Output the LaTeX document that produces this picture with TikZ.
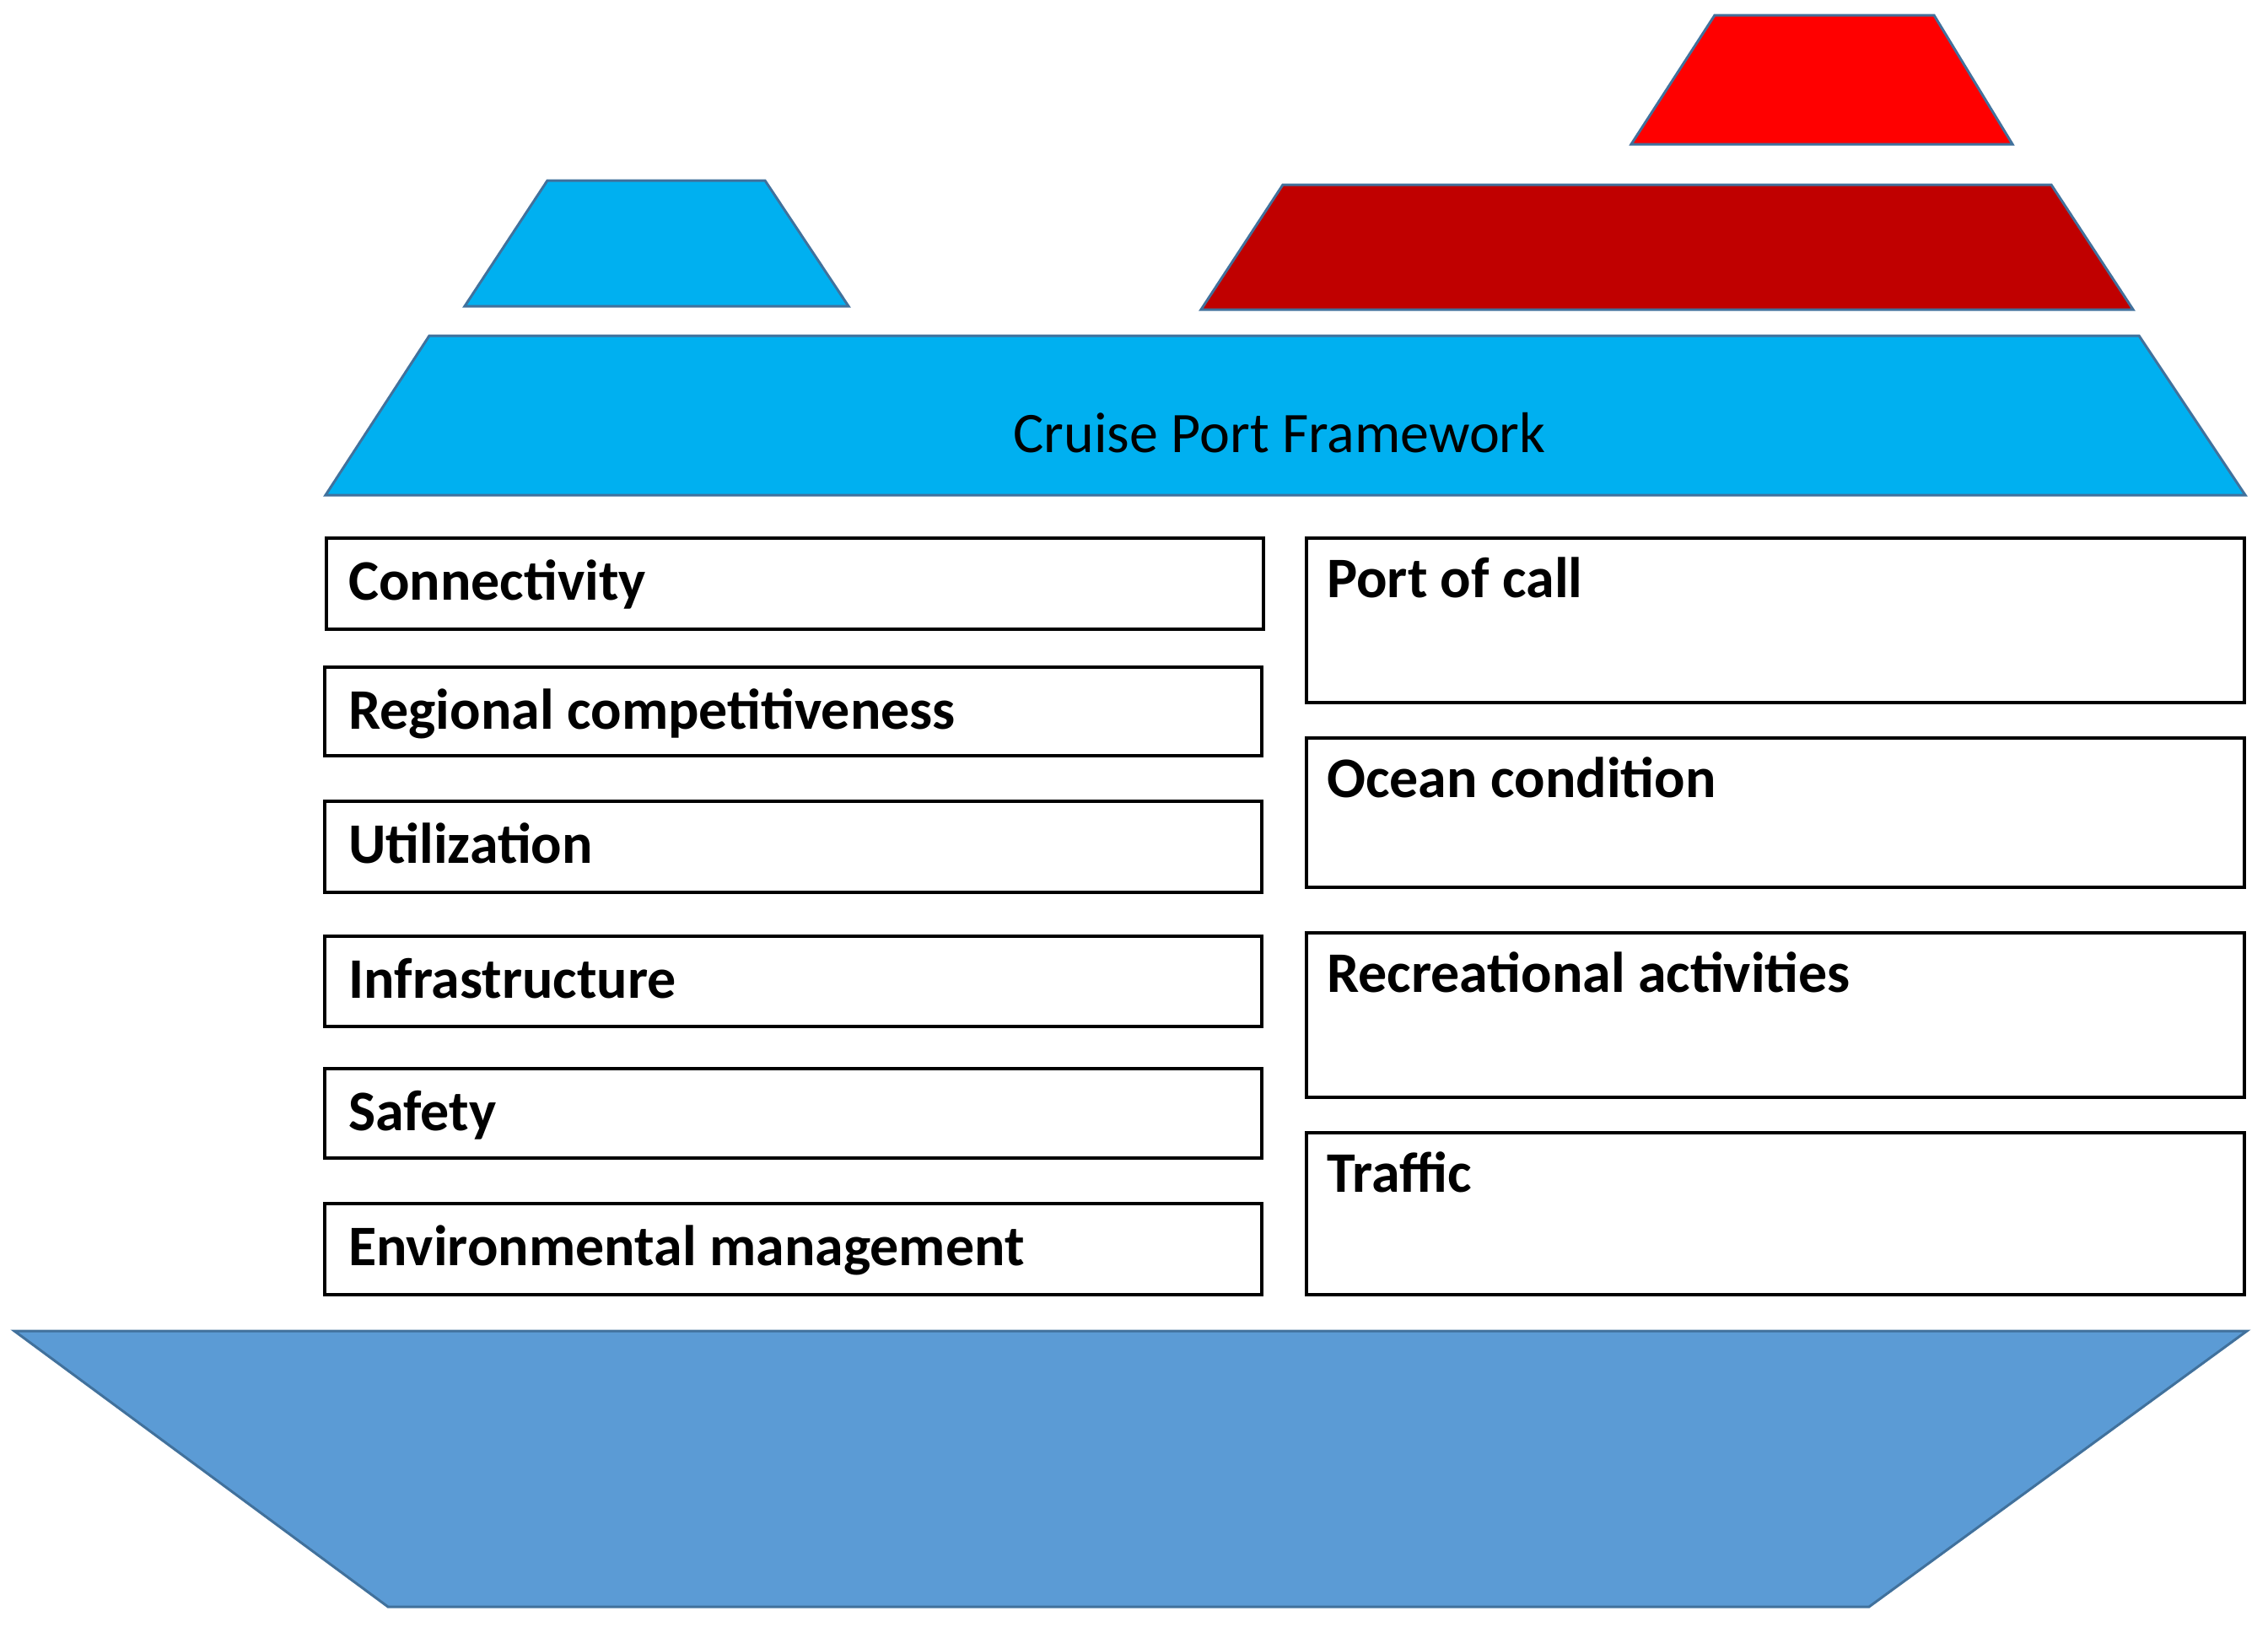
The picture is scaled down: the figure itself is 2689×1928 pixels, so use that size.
\documentclass[tikz,border=0pt]{standalone}
\usepackage{fontspec}
\setmainfont{Carlito}
\usetikzlibrary{calc}
\definecolor{skyb}{HTML}{00B0F0}
\definecolor{brightred}{HTML}{FF0000}
\definecolor{darkred}{HTML}{C00000}
\definecolor{hullblue}{HTML}{5B9BD5}
\definecolor{edgeblue}{HTML}{41719C}
\begin{document}
\begin{tikzpicture}[x=1pt,y=-1pt,
  shapeline/.style={draw=edgeblue, line width=3pt, line join=miter},
  itembox/.style={draw=black, line width=3.5pt, fill=white, inner sep=0pt, anchor=north west},
  itemtext/.style={font=\bfseries\fontsize{68}{80}\selectfont, anchor=base west, inner sep=0pt},
  titletext/.style={font=\fontsize{68}{80}\selectfont, anchor=base, inner sep=0pt}]
\useasboundingbox (0,0) rectangle (2689,1928);
% funnels and superstructure
\path[shapeline, fill=brightred] (2033,18) -- (2293,18) -- (2386,171) -- (1934,171) -- cycle;
\path[shapeline, fill=darkred] (1521,219) -- (2432,219) -- (2529,367) -- (1424,367) -- cycle;
\path[shapeline, fill=skyb] (649,214) -- (907,214) -- (1006,363) -- (551,363) -- cycle;
\path[shapeline, fill=skyb] (509,398) -- (2536,398) -- (2662,587) -- (386,587) -- cycle;
\node[titletext] (title) at (1517,536) {Cruise Port Framework};
% hull
\path[shapeline, fill=hullblue] (17,1578) -- (2664,1578) -- (2216,1905) -- (460,1905) -- cycle;
% left column
\node[itembox, minimum width=1111pt, minimum height=108pt] (l1) at (385,636) {};
\node[itembox, minimum width=1111pt, minimum height=105pt] (l2) at (383,789) {};
\node[itembox, minimum width=1111pt, minimum height=108pt] (l3) at (383,948) {};
\node[itembox, minimum width=1111pt, minimum height=107pt] (l4) at (383,1108) {};
\node[itembox, minimum width=1111pt, minimum height=106pt] (l5) at (383,1265) {};
\node[itembox, minimum width=1111pt, minimum height=108pt] (l6) at (383,1425) {};
\node[itemtext] (lt1) at ($(l1.north west)+(28,75)$) {Connectivity};
\node[itemtext] (lt2) at ($(l2.north west)+(30,75)$) {Regional competitiveness};
\node[itemtext] (lt3) at ($(l3.north west)+(30,75)$) {Utilization};
\node[itemtext] (lt4) at ($(l4.north west)+(30,75)$) {Infrastructure};
\node[itemtext] (lt5) at ($(l5.north west)+(30,75)$) {Safety};
\node[itemtext] (lt6) at ($(l6.north west)+(30,75)$) {Environmental management};
% right column
\node[itembox, minimum width=1112pt, minimum height=195pt] (r1) at (1547,636) {};
\node[itembox, minimum width=1112pt, minimum height=177pt] (r2) at (1547,873) {};
\node[itembox, minimum width=1112pt, minimum height=195pt] (r3) at (1547,1104) {};
\node[itembox, minimum width=1112pt, minimum height=192pt] (r4) at (1547,1341) {};
\node[itemtext] (rt1) at ($(r1.north west)+(26,72)$) {Port of call};
\node[itemtext] (rt2) at ($(r2.north west)+(26,72)$) {Ocean condition};
\node[itemtext] (rt3) at ($(r3.north west)+(26,72)$) {Recreational activities};
\node[itemtext] (rt4) at ($(r4.north west)+(26,72)$) {Traffic};
\end{tikzpicture}
\end{document}
